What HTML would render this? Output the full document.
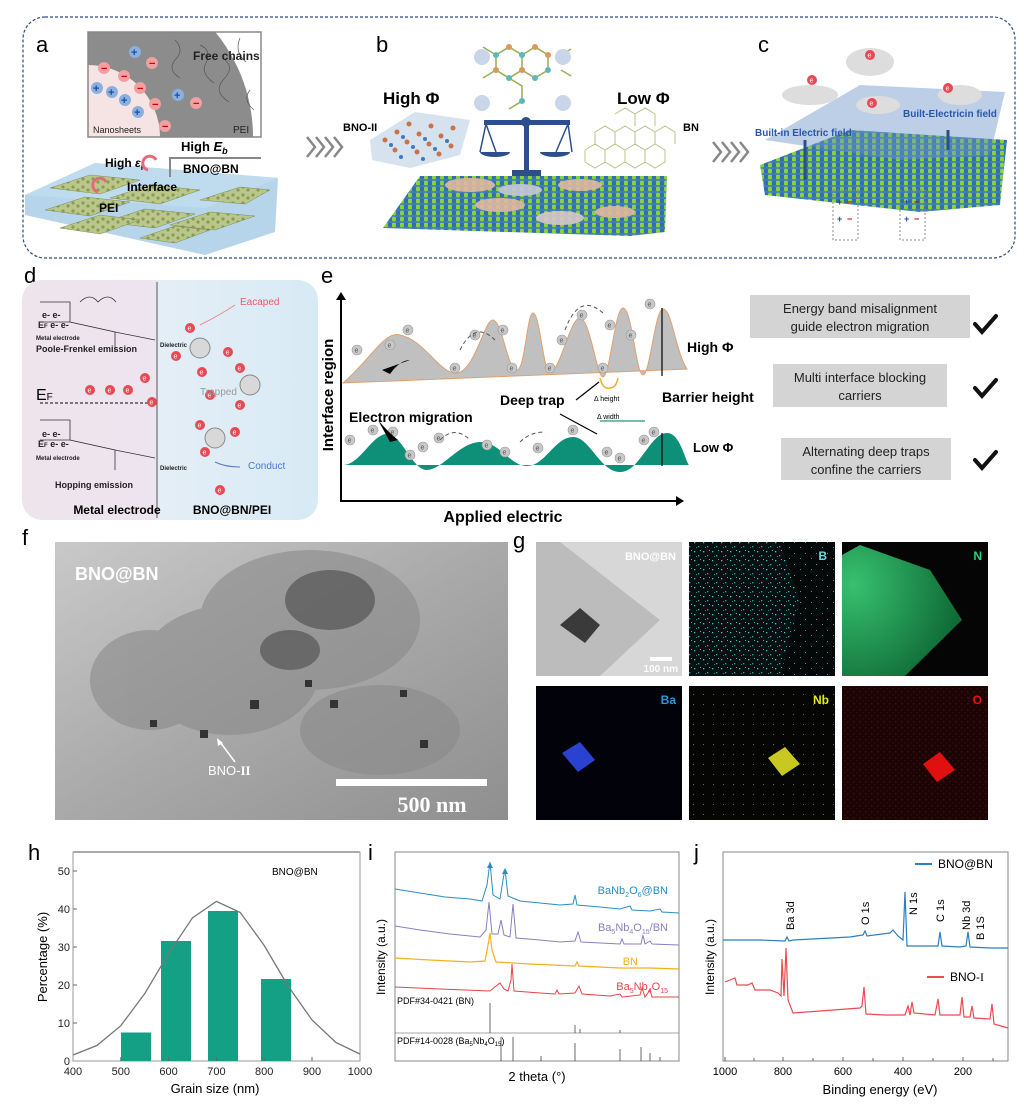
<!DOCTYPE html>
<html><head><meta charset="utf-8"><style>
html,body{margin:0;padding:0;background:#fff;}
svg{display:block;font-family:"Liberation Sans",sans-serif;}
.n{font-family:"Liberation Sans Narrow","Liberation Sans",sans-serif;}
</style></head><body>
<svg width="1024" height="1117" viewBox="0 0 1024 1117" xmlns="http://www.w3.org/2000/svg">
<defs>
<pattern id="lat" width="8" height="6" patternUnits="userSpaceOnUse">
<rect width="8" height="6" fill="#3d7fb8"/><circle cx="2" cy="3" r="2.4" fill="#8bd23a"/><circle cx="6" cy="3" r="2.2" fill="#2f6fb0"/></pattern>
<pattern id="slabp" width="10" height="8" patternUnits="userSpaceOnUse">
<rect width="10" height="8" fill="#b9c88a"/><circle cx="3" cy="3" r="1.6" fill="#8d9a55"/><circle cx="8" cy="6" r="1.6" fill="#8d9a55"/></pattern>
<pattern id="cy" width="9" height="9" patternUnits="userSpaceOnUse"><rect width="9" height="9" fill="#061010"/><rect x="1" y="2" width="1.3" height="1.3" fill="#3fc7c7"/><rect x="5" y="6" width="1.3" height="1.3" fill="#2aa8aa"/><rect x="7" y="1" width="1" height="1" fill="#38b8b8"/><rect x="3" y="7" width="1" height="1" fill="#1f8a8a"/></pattern>
<pattern id="cy2" width="11" height="11" patternUnits="userSpaceOnUse"><rect width="11" height="11" fill="#050808"/><rect x="2" y="3" width="1" height="1" fill="#2aa0a0"/><rect x="8" y="8" width="1" height="1" fill="#2aa0a0"/></pattern>
<pattern id="yl" width="10" height="10" patternUnits="userSpaceOnUse"><rect width="10" height="10" fill="#050503"/><rect x="3" y="4" width="1" height="1" fill="#6b6b10"/></pattern>
<pattern id="rd" width="6" height="6" patternUnits="userSpaceOnUse"><rect width="6" height="6" fill="#1a0404"/><rect x="1" y="1" width="1.5" height="1.5" fill="#4a0c0c"/><rect x="4" y="4" width="1.5" height="1.5" fill="#3a0808"/></pattern>
<linearGradient id="dg" x1="0" x2="1"><stop offset="0" stop-color="#efe4ec"/><stop offset="0.45" stop-color="#ece4ee"/><stop offset="0.46" stop-color="#e4eef6"/><stop offset="1" stop-color="#d8eaf5"/></linearGradient>
<radialGradient id="ng" cx="0.1" cy="0.3" r="0.9"><stop offset="0" stop-color="#37c070"/><stop offset="1" stop-color="#0f6a35"/></radialGradient>
<linearGradient id="tem" x1="0" y1="0" x2="1" y2="1"><stop offset="0" stop-color="#c9c9c9"/><stop offset="0.5" stop-color="#a9a9a9"/><stop offset="1" stop-color="#8f8f8f"/></linearGradient>
<clipPath id="ca"><rect x="88" y="32" width="173" height="105"/></clipPath>
<g id="el"><circle r="5" fill="#e84a55"/><text x="-2.5" y="2.5" font-size="7" fill="#fff">e</text></g>
<g id="eg"><circle r="5" fill="#c8c8c8" stroke="#999" stroke-width="0.6"/><text x="-2.5" y="2.5" font-size="7" fill="#555">e</text></g>
</defs>

<!-- ===== top dashed box ===== -->
<rect x="23" y="17" width="992" height="241" rx="22" fill="none" stroke="#2c4a7c" stroke-width="1.2" stroke-dasharray="3,2"/>
<text x="36" y="52" font-size="22">a</text>
<text x="376" y="52" font-size="22">b</text>
<text x="758" y="52" font-size="22">c</text>

<!-- a inset -->
<g clip-path="url(#ca)">
<rect x="88" y="32" width="173" height="105" fill="#fff"/>
<circle cx="88" cy="137" r="165" fill="#8c8c8c"/>
<circle cx="88" cy="137" r="72" fill="#f6e4e4"/>
<path d="M175 40 q10 10 0 20 q-8 10 5 18 M200 45 q12 5 6 18 q-6 10 8 20 M225 60 q10 8 -2 20 q-10 12 6 22 M240 38 q-6 14 6 24 M250 90 q-8 10 4 20" stroke="#555" fill="none" stroke-width="0.7"/>
</g>
<rect x="88" y="32" width="173" height="105" fill="none" stroke="#888" stroke-width="1.5"/>
<g font-size="11" font-weight="bold" fill="#fff">
<circle cx="135" cy="52" r="6" fill="#8ab0e0"/><text x="131" y="56" fill="#1d4e9c">+</text>
<circle cx="104" cy="68" r="6" fill="#f0a0a0"/><text x="101" y="72" fill="#c00">−</text>
<circle cx="152" cy="63" r="6" fill="#f0a0a0"/><text x="149" y="67" fill="#c00">−</text>
<circle cx="124" cy="76" r="6" fill="#f0a0a0"/><text x="121" y="80" fill="#c00">−</text>
<circle cx="97" cy="88" r="6" fill="#8ab0e0"/><text x="93" y="92" fill="#1d4e9c">+</text>
<circle cx="112" cy="92" r="6" fill="#8ab0e0"/><text x="108" y="96" fill="#1d4e9c">+</text>
<circle cx="140" cy="88" r="6" fill="#f0a0a0"/><text x="137" y="92" fill="#c00">−</text>
<circle cx="178" cy="95" r="6" fill="#8ab0e0"/><text x="174" y="99" fill="#1d4e9c">+</text>
<circle cx="196" cy="103" r="6" fill="#f0a0a0"/><text x="193" y="107" fill="#c00">−</text>
<circle cx="125" cy="100" r="6" fill="#8ab0e0"/><text x="121" y="104" fill="#1d4e9c">+</text>
<circle cx="155" cy="104" r="6" fill="#f0a0a0"/><text x="152" y="108" fill="#c00">−</text>
<circle cx="138" cy="112" r="6" fill="#8ab0e0"/><text x="134" y="116" fill="#1d4e9c">+</text>
<circle cx="165" cy="126" r="6" fill="#f0a0a0"/><text x="162" y="130" fill="#c00">−</text>
</g>
<text x="193" y="60" font-size="12" class="n" font-weight="bold" fill="#222">Free chains</text>
<text x="93" y="133" font-size="9" class="n" fill="#222">Nanosheets</text>
<text x="233" y="133" font-size="10" class="n" fill="#222">PEI</text>
<!-- a slab -->
<polygon points="25,195 95,163 278,178 275,232 205,255 25,215" fill="#a9cde6" opacity="0.85"/>
<polygon points="25,195 95,163 278,178 205,208" fill="#bfdcef"/>
<g fill="url(#slabp)" stroke="#6f7a3a" stroke-width="0.4">
<polygon points="50,188 90,175 140,180 100,194"/><polygon points="110,198 150,185 200,190 160,204"/>
<polygon points="45,210 85,197 130,202 90,216"/><polygon points="105,222 145,209 195,214 155,228"/>
<polygon points="170,225 210,212 255,216 215,230"/><polygon points="200,200 240,187 270,190 245,204"/>
<polygon points="60,228 100,215 140,220 100,234"/><polygon points="140,238 175,226 210,230 175,243"/>
</g>
<path d="M170 177 V158 H261" stroke="#888" stroke-width="2" fill="none"/>
<text x="181" y="151" font-size="13" class="n" font-weight="bold">High <tspan font-style="italic">E</tspan><tspan font-size="9" dy="3" font-style="italic">b</tspan></text>
<text x="183" y="173" font-size="12" class="n" font-weight="bold">BNO@BN</text>
<text x="105" y="167" font-size="12" class="n" font-weight="bold">High <tspan font-style="italic">ε</tspan><tspan font-size="8" dy="3">r</tspan></text>
<path d="M148 170 a7 7 0 1 1 8 -10" stroke="#e66b7a" stroke-width="3" fill="none"/>
<path d="M98 192 a7 7 0 1 1 8 -10" stroke="#e66b7a" stroke-width="3" fill="none"/>
<text x="127" y="191" font-size="12" class="n" font-weight="bold">Interface</text>
<text x="99" y="212" font-size="12" class="n" font-weight="bold">PEI</text>

<!-- chevrons -->
<g fill="none" stroke="#888" stroke-width="2.5">
<path d="M307 137 l8 10 l-8 10 M316 137 l8 10 l-8 10 M325 137 l8 10 l-8 10 M334 137 l8 10 l-8 10"/>
<path d="M713 142 l8 10 l-8 10 M722 142 l8 10 l-8 10 M731 142 l8 10 l-8 10 M740 142 l8 10 l-8 10"/>
</g>

<!-- b -->
<polygon points="383,228 420,176 667,176 665,232 630,236" fill="url(#lat)"/>
<g fill="#e0b8a0" opacity="0.9"><ellipse cx="470" cy="185" rx="25" ry="7"/><ellipse cx="520" cy="190" rx="22" ry="6" fill="#c8c8d8"/><ellipse cx="500" cy="205" rx="25" ry="7"/><ellipse cx="580" cy="185" rx="22" ry="6"/><ellipse cx="560" cy="218" rx="24" ry="7" fill="#d8c8c8"/><ellipse cx="615" cy="212" rx="20" ry="6"/></g>
<g stroke="#9bb05a" stroke-width="1.6" fill="none"><path d="M496 55 l13 -8 l13 8 v15 l-13 8 l-13 -8 z M522 55 l13 -8 l13 8 v15 l-13 8 l-13 -8 z M509 78 l13 8 v15 l-13 8 M483 47 l13 8 M561 55 l10 -6 M561 70 l10 6 M483 78 l13 -8"/></g>
<g fill="#5fb8b8"><circle cx="496" cy="55" r="3"/><circle cx="522" cy="55" r="3"/><circle cx="548" cy="70" r="3"/><circle cx="509" cy="78" r="3"/><circle cx="535" cy="78" r="3"/><circle cx="522" cy="101" r="3"/></g>
<g fill="#d99860"><circle cx="509" cy="47" r="3"/><circle cx="535" cy="47" r="3"/><circle cx="548" cy="55" r="3"/><circle cx="496" cy="70" r="3"/><circle cx="522" cy="70" r="3"/></g>
<g fill="#c9d6ea"><circle cx="482" cy="57" r="8"/><circle cx="563" cy="57" r="8"/><circle cx="482" cy="103" r="8"/><circle cx="563" cy="103" r="8"/></g>
<polygon points="370,140 415,112 470,120 460,155 410,168 372,160" fill="#d6e2ee"/>
<g fill="#c9724a"><circle cx="385" cy="140" r="2.5"/><circle cx="397" cy="132" r="2.5"/><circle cx="409" cy="124" r="2.5"/><circle cx="395" cy="150" r="2.5"/><circle cx="407" cy="142" r="2.5"/><circle cx="419" cy="134" r="2.5"/><circle cx="431" cy="126" r="2.5"/><circle cx="417" cy="152" r="2.5"/><circle cx="429" cy="144" r="2.5"/><circle cx="441" cy="136" r="2.5"/><circle cx="453" cy="128" r="2.5"/><circle cx="439" cy="154" r="2.5"/><circle cx="451" cy="146" r="2.5"/></g>
<g fill="#3e7ac0"><circle cx="391" cy="145" r="2"/><circle cx="403" cy="137" r="2"/><circle cx="413" cy="147" r="2"/><circle cx="425" cy="139" r="2"/><circle cx="435" cy="149" r="2"/><circle cx="447" cy="141" r="2"/><circle cx="401" cy="157" r="2"/><circle cx="423" cy="159" r="2"/></g>
<g stroke="#b7c48a" stroke-width="1" fill="none"><path d="M585 150 l10 -6 l10 6 v12 l-10 6 l-10 -6z M605 150 l10 -6 l10 6 v12 l-10 6 l-10 -6z M625 150 l10 -6 l10 6 v12 l-10 6 l-10 -6z M645 150 l10 -6 l10 6 v12 l-10 6 l-10 -6z M595 132 l10 -6 l10 6 v12 l-10 6 l-10 -6z M615 132 l10 -6 l10 6 v12 l-10 6 l-10 -6z M635 132 l10 -6 l10 6 v12 l-10 6 l-10 -6z M655 132 l10 -6 l10 6 v12 M615 114 l10 -6 l10 6 v12 M635 114 l10 -6 l10 6 v12"/></g>
<g fill="#2c4f8c">
<rect x="524" y="118" width="5" height="55"/><rect x="484" y="120" width="86" height="5"/><circle cx="526" cy="122" r="5"/>
<path d="M480 152 h30 a15 5 0 0 1 -30 0z M540 152 h30 a15 5 0 0 1 -30 0z"/>
<rect x="512" y="170" width="29" height="6"/>
</g>
<path d="M486 124 l-6 28 M486 124 l10 28 M568 124 l-12 28 M568 124 l4 28" stroke="#2c4f8c" stroke-width="1.5"/>
<text x="383" y="104" font-size="17" class="n" font-weight="bold">High Φ</text>
<text x="617" y="104" font-size="17" class="n" font-weight="bold">Low Φ</text>
<text x="343" y="131" font-size="11" class="n" font-weight="bold">BNO-II</text>
<text x="683" y="131" font-size="11" class="n" font-weight="bold">BN</text>

<!-- c -->
<polygon points="760,165 850,130 1007,140 1000,205 920,212 765,195" fill="url(#lat)"/>
<polygon points="765,140 860,85 1005,92 990,155 900,160" fill="#6d94c8" opacity="0.45"/>
<g fill="#ddd"><ellipse cx="810" cy="95" rx="28" ry="10"/><ellipse cx="870" cy="62" rx="24" ry="14"/><ellipse cx="878" cy="105" rx="22" ry="9"/><ellipse cx="960" cy="95" rx="22" ry="10"/></g>
<use href="#el" x="812" y="80"/><use href="#el" x="870" y="55"/><use href="#el" x="872" y="103"/><use href="#el" x="948" y="88"/>
<text x="755" y="136" font-size="10" class="n" font-weight="bold" fill="#2858a8">Built-in Electric field</text>
<text x="903" y="117" font-size="10" class="n" font-weight="bold" fill="#2858a8">Built-Electricin field</text>
<path d="M805 180 v-40 M948 130 v20" stroke="#2c4f8c" stroke-width="3"/>
<g stroke="#888" stroke-dasharray="2,2" fill="none"><rect x="833" y="190" width="25" height="50"/><rect x="900" y="190" width="25" height="50"/></g>
<g font-size="9" font-weight="bold"><text x="837" y="205" fill="#1d4e9c">+</text><text x="847" y="205" fill="#c00">−</text><text x="837" y="222" fill="#1d4e9c">+</text><text x="847" y="222" fill="#c00">−</text><text x="904" y="205" fill="#1d4e9c">+</text><text x="914" y="205" fill="#c00">−</text><text x="904" y="222" fill="#1d4e9c">+</text><text x="914" y="222" fill="#c00">−</text></g>

<!-- ===== d ===== -->
<text x="24" y="283" font-size="22">d</text>
<rect x="22" y="280" width="296" height="240" rx="20" fill="url(#dg)"/>
<line x1="157" y1="282" x2="157" y2="518" stroke="#555" stroke-width="1"/>
<g stroke="#333" stroke-width="0.8" fill="none">
<path d="M40 302 h30 v20 l45 10 v20 M40 322 h30 M115 332 l40 8"/>
<path d="M40 420 h30 v20 l45 10 v20 M40 440 h30 M115 450 l40 8"/>
<path d="M80 302 q10 -10 18 0 q10 -10 18 0"/>
<path d="M40 403 H157" stroke-dasharray="3,2" stroke-width="1.2"/>
</g>
<g font-size="9" class="n" font-weight="bold" fill="#222">
<text x="42" y="318">e-  e-</text><text x="38" y="328">E<tspan font-size="6">F</tspan> e- e-</text><text x="36" y="340" font-size="6">Metal electrode</text>
<text x="36" y="352">Poole-Frenkel emission</text>
<text x="42" y="437">e-  e-</text><text x="38" y="447">E<tspan font-size="6">F</tspan> e- e-</text><text x="36" y="460" font-size="6">Metal electrode</text>
<text x="55" y="488">Hopping emission</text>
<text x="160" y="347" font-size="6">Dielectric</text><text x="160" y="470" font-size="6">Dielectric</text>
</g>
<text x="36" y="400" font-size="16" class="n">E<tspan font-size="10">F</tspan></text>
<g fill="#d8d8d8" stroke="#888"><circle cx="200" cy="348" r="10"/><circle cx="250" cy="385" r="10"/><circle cx="215" cy="438" r="10"/></g>
<use href="#el" x="90" y="390"/><use href="#el" x="110" y="390"/><use href="#el" x="128" y="390"/><use href="#el" x="152" y="402"/><use href="#el" x="145" y="378"/>
<use href="#el" x="190" y="328"/><use href="#el" x="176" y="356"/><use href="#el" x="202" y="372"/><use href="#el" x="228" y="352"/><use href="#el" x="240" y="368"/><use href="#el" x="210" y="395"/><use href="#el" x="240" y="405"/><use href="#el" x="200" y="425"/><use href="#el" x="235" y="432"/><use href="#el" x="205" y="452"/><use href="#el" x="220" y="490"/>
<path d="M200 325 q20 -10 35 -20" stroke="#e88" fill="none"/><path d="M215 462 q10 5 25 5" stroke="#5a7ac0" fill="none"/>
<text x="240" y="305" font-size="10" class="n" fill="#e85a6a">Eacaped</text>
<text x="200" y="395" font-size="10" class="n" fill="#999">Trapped</text>
<text x="248" y="469" font-size="10" class="n" fill="#4a7ac8">Conduct</text>
<text x="117" y="514" font-size="12" class="n" font-weight="bold" text-anchor="middle">Metal electrode</text>
<text x="232" y="514" font-size="12" class="n" font-weight="bold" text-anchor="middle">BNO@BN/PEI</text>

<!-- ===== e ===== -->
<text x="321" y="283" font-size="22">e</text>
<path d="M341 297 V501 H680" stroke="#000" stroke-width="2" fill="none"/>
<path d="M336 300 l5 -8 l5 8z M676 496 l8 5 l-8 5z"/>
<path d="M343 383 C370 360 385 330 400 335 C425 340 440 375 457 373 C475 371 485 318 493 320 C503 322 507 370 517 370 C525 370 527 313 533 313 C540 313 543 372 550 372 C560 372 570 318 580 318 C590 318 597 378 603 377 C610 376 615 308 623 308 C632 308 636 375 643 375 C650 375 655 309 663 309 C672 309 675 350 687 369 Z" fill="#c0c0c0" stroke="#e0a070" stroke-width="1"/>
<path d="M343 465 C360 465 372 434 387 434 C402 434 412 470 427 470 C442 470 460 442 480 442 C500 442 510 466 527 466 C545 466 555 437 573 437 C590 437 600 472 620 472 C640 472 650 433 667 433 C680 433 685 460 689 465 Z" fill="#0e8f78"/>
<g><use href="#eg" x="357" y="350"/><use href="#eg" x="390" y="345"/><use href="#eg" x="408" y="330"/><use href="#eg" x="455" y="368"/><use href="#eg" x="475" y="335"/><use href="#eg" x="503" y="330"/><use href="#eg" x="512" y="368"/><use href="#eg" x="550" y="368"/><use href="#eg" x="562" y="340"/><use href="#eg" x="582" y="315"/><use href="#eg" x="603" y="368"/><use href="#eg" x="610" y="325"/><use href="#eg" x="631" y="335"/><use href="#eg" x="650" y="304"/>
<use href="#eg" x="350" y="440"/><use href="#eg" x="373" y="430"/><use href="#eg" x="393" y="432"/><use href="#eg" x="410" y="455"/><use href="#eg" x="423" y="447"/><use href="#eg" x="439" y="438"/><use href="#eg" x="487" y="445"/><use href="#eg" x="505" y="452"/><use href="#eg" x="538" y="448"/><use href="#eg" x="573" y="430"/><use href="#eg" x="607" y="452"/><use href="#eg" x="620" y="458"/><use href="#eg" x="644" y="440"/><use href="#eg" x="654" y="432"/></g>
<path d="M662 308 V376 M662 433 V466" stroke="#000" stroke-width="1.2"/>
<path d="M576 400 l23 -18 M560 414 l37 20" stroke="#000" stroke-width="1.2"/>
<path d="M600 378 q3 12 10 10 q6 0 8 -10" stroke="#f0b020" stroke-width="1.5" fill="none"/>
<path d="M600 421 h45" stroke="#1a9a7a" stroke-width="1.2"/>
<path d="M410 360 q-10 0 -20 14 l-8 -4z M378 420 q10 12 20 20 l-8 2z" fill="#000"/>
<g stroke="#555" stroke-dasharray="4,3" fill="none"><path d="M460 350 q15 -30 35 -10 M565 330 q15 -40 40 -15 M440 440 q15 -15 30 0 M520 442 q10 -10 25 -10"/></g>
<text x="687" y="352" font-size="14" class="n" font-weight="bold">High Φ</text>
<text x="662" y="402" font-size="14" class="n" font-weight="bold">Barrier height</text>
<text x="693" y="452" font-size="13" class="n" font-weight="bold">Low Φ</text>
<text x="500" y="405" font-size="14" class="n" font-weight="bold">Deep trap</text>
<text x="349" y="422" font-size="14" class="n" font-weight="bold">Electron migration</text>
<text x="594" y="401" font-size="7" class="n">Δ height</text>
<text x="597" y="419" font-size="7" class="n">Δ width</text>
<text x="333" y="395" font-size="15" font-weight="bold" transform="rotate(-90 333 395)" text-anchor="middle">Interface region</text>
<text x="503" y="522" font-size="16" class="n" font-weight="bold" text-anchor="middle">Applied electric</text>
<g font-size="13" class="n" text-anchor="middle" fill="#222">
<rect x="750" y="295" width="220" height="43" fill="#d4d4d4"/><text x="860" y="313">Energy band misalignment</text><text x="860" y="331">guide electron migration</text>
<rect x="773" y="364" width="174" height="43" fill="#d4d4d4"/><text x="860" y="382">Multi interface blocking</text><text x="860" y="400">carriers</text>
<rect x="781" y="438" width="170" height="42" fill="#d4d4d4"/><text x="866" y="456">Alternating deep traps</text><text x="866" y="474">confine the carriers</text>
</g>
<g stroke="#111" stroke-width="4" fill="none" stroke-linecap="round"><path d="M975 324 l7 8 l14 -16 M975 388 l7 8 l14 -16 M975 460 l7 8 l14 -16"/></g>

<!-- ===== f ===== -->
<text x="22" y="545" font-size="22">f</text>
<rect x="55" y="542" width="453" height="278" fill="url(#tem)"/>
<g fill="#8a8a8a" opacity="0.6"><ellipse cx="310" cy="620" rx="110" ry="70"/><ellipse cx="230" cy="670" rx="90" ry="65"/><ellipse cx="380" cy="730" rx="80" ry="45"/><ellipse cx="150" cy="680" rx="60" ry="50"/></g>
<g fill="#555" opacity="0.7"><ellipse cx="330" cy="600" rx="45" ry="30"/><ellipse cx="290" cy="650" rx="30" ry="20"/></g>
<g fill="#333"><rect x="250" y="700" width="9" height="9"/><rect x="330" y="700" width="8" height="8"/><rect x="200" y="730" width="8" height="8"/><rect x="400" y="690" width="7" height="7"/><rect x="150" y="720" width="7" height="7"/><rect x="420" y="740" width="8" height="8"/><rect x="305" y="680" width="7" height="7"/></g>
<text x="75" y="580" font-size="18" font-weight="bold" fill="#fff">BNO@BN</text>
<text x="208" y="775" font-size="13" fill="#fff">BNO-<tspan font-family="Liberation Serif" font-weight="bold">II</tspan></text>
<path d="M235 762 l-15 -20" stroke="#fff" stroke-width="1.5"/><path d="M217 738 l1 8 l5 -3z" fill="#fff"/>
<rect x="336" y="779" width="151" height="7" fill="#fff"/>
<text x="432" y="812" font-size="22" font-family="Liberation Serif" font-weight="bold" fill="#fff" text-anchor="middle">500 nm</text>

<!-- ===== g ===== -->
<text x="513" y="548" font-size="22">g</text>
<rect x="536" y="542" width="146" height="134" fill="#d7d7d7"/>
<polygon points="536,542 560,542 660,620 600,676 536,676" fill="#bcbcbc"/>
<polygon points="560,625 580,608 600,625 585,643" fill="#3a3a3a"/>
<text x="676" y="560" font-size="11" font-weight="bold" fill="#fff" text-anchor="end">BNO@BN</text>
<rect x="650" y="657" width="22" height="4" fill="#fff"/><text x="678" y="672" font-size="10" font-weight="bold" fill="#fff" text-anchor="end">100 nm</text>
<rect x="689" y="542" width="146" height="134" fill="url(#cy2)"/>
<polygon points="689,542 780,542 800,600 780,676 689,676" fill="url(#cy)"/>
<text x="827" y="560" font-size="12" font-weight="bold" fill="#5ee0e0" text-anchor="end">B</text>
<rect x="842" y="542" width="146" height="134" fill="#050505"/>
<polygon points="842,555 860,545 930,570 962,620 905,676 842,676" fill="url(#ng)"/>
<text x="982" y="560" font-size="12" font-weight="bold" fill="#2bd07a" text-anchor="end">N</text>
<rect x="536" y="686" width="146" height="134" fill="#02030a"/>
<polygon points="562,753 580,742 595,760 578,772" fill="#2a42d0"/>
<text x="676" y="704" font-size="12" font-weight="bold" fill="#2a9ae0" text-anchor="end">Ba</text>
<rect x="689" y="686" width="146" height="134" fill="url(#yl)"/>
<polygon points="768,758 785,747 800,764 782,776" fill="#c8c820"/>
<text x="829" y="704" font-size="12" font-weight="bold" fill="#e8e820" text-anchor="end">Nb</text>
<rect x="842" y="686" width="146" height="134" fill="url(#rd)"/>
<polygon points="923,764 940,752 955,770 937,782" fill="#e01010"/>
<text x="982" y="704" font-size="12" font-weight="bold" fill="#f01010" text-anchor="end">O</text>

<!-- ===== h ===== -->
<text x="28" y="860" font-size="22">h</text>
<rect x="73" y="852" width="287" height="209" fill="none" stroke="#999" stroke-width="1"/>
<line x1="73" y1="852" x2="360" y2="852" stroke="#aaa" stroke-width="2"/>
<g fill="#14a085"><rect x="121" y="1032.5" width="30" height="28.5"/><rect x="161" y="941" width="30" height="120"/><rect x="208" y="911" width="30" height="150"/><rect x="261" y="979" width="30" height="82"/></g>
<polyline points="73,1055 96.9,1045.5 120.8,1025.7 144.7,993.7 168.6,953.5 192.5,917.8 216.4,901.4 240.3,912.5 264.2,945.5 288.1,986 312,1020 335.9,1042.5 359.8,1054" fill="none" stroke="#777" stroke-width="1.3"/>
<g stroke="#666" stroke-width="1"><path d="M73 871 h4 M73 909 h4 M73 947 h4 M73 985 h4 M73 1023 h4 M120.8 1061 v-4 M168.6 1061 v-4 M216.4 1061 v-4 M264.2 1061 v-4 M312 1061 v-4"/></g>
<g font-size="11" fill="#222" text-anchor="end"><text x="70" y="875">50</text><text x="70" y="913">40</text><text x="70" y="951">30</text><text x="70" y="989">20</text><text x="70" y="1027">10</text><text x="70" y="1065">0</text></g>
<g font-size="11" fill="#222" text-anchor="middle"><text x="73" y="1075">400</text><text x="120.8" y="1075">500</text><text x="168.6" y="1075">600</text><text x="216.4" y="1075">700</text><text x="264.2" y="1075">800</text><text x="312" y="1075">900</text><text x="360" y="1075">1000</text></g>
<text x="215" y="1093" font-size="13" text-anchor="middle">Grain size (nm)</text>
<text x="47" y="957" font-size="13" text-anchor="middle" transform="rotate(-90 47 957)">Percentage (%)</text>
<text x="272" y="875" font-size="10" class="n">BNO@BN</text>

<!-- ===== i ===== -->
<text x="368" y="860" font-size="22">i</text>
<rect x="395" y="852" width="284" height="209" fill="none" stroke="#888" stroke-width="1"/>
<line x1="395" y1="1033" x2="679" y2="1033" stroke="#888" stroke-width="0.8"/>
<polyline fill="none" stroke="#2a8ec0" stroke-width="1" points="395,889 420,893 445,897 470,899 482,901 487,885 490,862 493,895 500,899 503,880 505,869 508,896 520,901 560,905 573,904 575,895 577,905 600,907 620,909 630,906 632,910 650,911 660,909 662,912 679,913"/>
<path d="M487 868 l3 -6 l3 6z M502 874 l3 -6 l3 6z" fill="#2a8ec0"/>
<polyline fill="none" stroke="#8a7fc0" stroke-width="1" points="395,926 420,930 450,934 480,937 486,930 489,902 492,934 498,934 501,920 504,935 510,937 513,904 516,938 540,940 560,942 575,941 578,932 581,942 620,944 622,939 624,944 641,944 643,935 645,944 650,941 652,944 679,945"/>
<polyline fill="none" stroke="#f2b01e" stroke-width="1.2" points="395,958 430,960 470,962 485,961 488,945 490,933 492,950 496,962 530,964 575,966 577,962 579,966 620,968 650,968 679,969"/>
<polyline fill="none" stroke="#e8434a" stroke-width="1" points="395,987 440,989 490,991 496,986 500,983 504,989 508,991 511,980 512,964 514,991 540,993 555,994 557,990 559,994 575,993 579,986 582,994 610,996 620,994 622,997 640,995 642,988 645,997 650,990 652,997 679,997"/>
<g stroke="#444" stroke-width="0.8"><path d="M490 1003 V1033 M575 1033 v-8 M580 1033 v-4 M620 1033 v-3 M501 1061 v-24 M513 1061 v-24 M575 1061 v-18 M541 1061 v-5 M620 1061 v-12 M641 1061 v-14 M650 1061 v-8 M660 1061 v-4"/></g>
<g font-size="11" text-anchor="end"><text x="668" y="894" fill="#2a8ec0">BaNb<tspan font-size="7" dy="3">2</tspan><tspan dy="-3">O</tspan><tspan font-size="7" dy="3">6</tspan><tspan dy="-3">@BN</tspan></text>
<text x="668" y="931" fill="#8a7fc0">Ba<tspan font-size="7" dy="3">5</tspan><tspan dy="-3">Nb</tspan><tspan font-size="7" dy="3">4</tspan><tspan dy="-3">O</tspan><tspan font-size="7" dy="3">15</tspan><tspan dy="-3">/BN</tspan></text>
<text x="638" y="965" fill="#f2b01e">BN</text>
<text x="668" y="990" fill="#e8434a">Ba<tspan font-size="7" dy="3">5</tspan><tspan dy="-3">Nb</tspan><tspan font-size="7" dy="3">4</tspan><tspan dy="-3">O</tspan><tspan font-size="7" dy="3">15</tspan></text></g>
<text x="397" y="1004" font-size="9" class="n">PDF#34-0421 (BN)</text>
<text x="397" y="1044" font-size="9" class="n">PDF#14-0028 (Ba<tspan font-size="6" dy="2">5</tspan><tspan dy="-2">Nb</tspan><tspan font-size="6" dy="2">4</tspan><tspan dy="-2">O</tspan><tspan font-size="6" dy="2">15</tspan><tspan dy="-2">)</tspan></text>
<text x="537" y="1081" font-size="13" text-anchor="middle">2 theta (°)</text>
<text x="385" y="957" font-size="12" text-anchor="middle" transform="rotate(-90 385 957)">Intensity (a.u.)</text>

<!-- ===== j ===== -->
<text x="694" y="860" font-size="22">j</text>
<rect x="723" y="852" width="285" height="209" fill="none" stroke="#888" stroke-width="1"/>
<polyline fill="none" stroke="#2a7fc0" stroke-width="1.2" points="723,940 760,940 785,941 787,937 789,941 793,940 850,937 863,935 865,931 867,936 890,933 893,930 898,936 903,940 905,892 907,946 930,946 938,946 940,932 942,946 960,947 966,946 968,932 970,947 990,948 1008,948"/>
<polyline fill="none" stroke="#ea4a50" stroke-width="1.2" points="725,982 735,978 737,985 748,985 752,983 755,990 770,990 778,993 781,996 782,959 784,996 786,948 788,1000 793,1013 820,1011 860,1008 862,1006 864,987 866,1014 885,1015 905,1015 908,1006 910,1015 912,1002 914,1013 935,1015 938,999 940,1015 960,1015 962,997 964,1017 970,1017 972,1006 974,1018 990,1019 992,1004 994,1024 1008,1028"/>
<g stroke="#666"><path d="M725 1061 v-4 M754 1061 v-3 M783 1061 v-4 M813 1061 v-3 M843 1061 v-4 M873 1061 v-3 M903 1061 v-4 M933 1061 v-3 M963 1061 v-4 M993 1061 v-3"/></g>
<g font-size="11" text-anchor="middle"><text x="725" y="1075">1000</text><text x="783" y="1075">800</text><text x="843" y="1075">600</text><text x="903" y="1075">400</text><text x="963" y="1075">200</text></g>
<text x="880" y="1094" font-size="13" text-anchor="middle">Binding energy (eV)</text>
<text x="714" y="957" font-size="12" text-anchor="middle" transform="rotate(-90 714 957)">Intensity (a.u.)</text>
<line x1="915" y1="864" x2="932" y2="864" stroke="#2a7fc0" stroke-width="2"/><text x="938" y="868" font-size="12">BNO@BN</text>
<line x1="927" y1="977" x2="944" y2="977" stroke="#ea4a50" stroke-width="2"/><text x="950" y="981" font-size="12">BNO-<tspan font-family="Liberation Serif">I</tspan></text>
<g font-size="11">
<text transform="translate(794,930) rotate(-90)">Ba 3d</text>
<text transform="translate(869,925) rotate(-90)">O 1s</text>
<text transform="translate(917,915) rotate(-90)">N 1s</text>
<text transform="translate(944,922) rotate(-90)">C 1s</text>
<text transform="translate(970,930) rotate(-90)">Nb 3d</text>
<text transform="translate(984,940) rotate(-90)">B 1S</text>
</g>
</svg>
</body></html>
